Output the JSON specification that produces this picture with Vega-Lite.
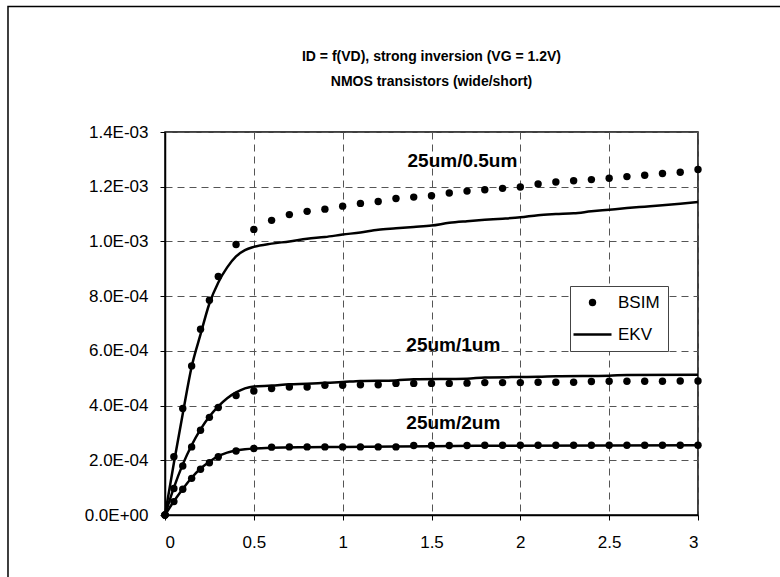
{
  "$schema": "https://vega.github.io/schema/vega-lite/v6.json",
  "width": 533,
  "height": 383,
  "autosize": {"type": "none"},
  "padding": {"left": 165, "top": 132, "right": 82, "bottom": 62},
  "background": "white",
  "title": {
    "text": ["ID = f(VD), strong inversion (VG = 1.2V)", "NMOS transistors (wide/short)"],
    "font": "Liberation Sans",
    "fontSize": 14,
    "fontWeight": "bold",
    "color": "black",
    "lineHeight": 25,
    "anchor": "middle",
    "frame": "group",
    "offset": 35,
    "dy": 118
  },
  "config": {
    "view": {"stroke": "black", "strokeWidth": 1.5},
    "axis": {
      "labelFont": "Liberation Sans",
      "labelFontSize": 17,
      "labelColor": "black",
      "tickColor": "black",
      "tickSize": 5,
      "domainColor": "black",
      "domainWidth": 1.5,
      "grid": true,
      "gridColor": "#555555",
      "gridDash": [7, 5],
      "gridWidth": 1,
      "title": null
    }
  },
  "datasets": {
    "bsim": [
      {"device": "25um/0.5um", "model": "BSIM", "vd": 0, "id": 0},
      {"device": "25um/0.5um", "model": "BSIM", "vd": 0.05, "id": 0.000213},
      {"device": "25um/0.5um", "model": "BSIM", "vd": 0.1, "id": 0.000389},
      {"device": "25um/0.5um", "model": "BSIM", "vd": 0.15, "id": 0.000545},
      {"device": "25um/0.5um", "model": "BSIM", "vd": 0.2, "id": 0.000679},
      {"device": "25um/0.5um", "model": "BSIM", "vd": 0.25, "id": 0.000785},
      {"device": "25um/0.5um", "model": "BSIM", "vd": 0.3, "id": 0.000872},
      {"device": "25um/0.5um", "model": "BSIM", "vd": 0.4, "id": 0.000989},
      {"device": "25um/0.5um", "model": "BSIM", "vd": 0.5, "id": 0.001044},
      {"device": "25um/0.5um", "model": "BSIM", "vd": 0.6, "id": 0.001077},
      {"device": "25um/0.5um", "model": "BSIM", "vd": 0.7, "id": 0.001098},
      {"device": "25um/0.5um", "model": "BSIM", "vd": 0.8, "id": 0.00111},
      {"device": "25um/0.5um", "model": "BSIM", "vd": 0.9, "id": 0.001118},
      {"device": "25um/0.5um", "model": "BSIM", "vd": 1.0, "id": 0.001129},
      {"device": "25um/0.5um", "model": "BSIM", "vd": 1.1, "id": 0.001139},
      {"device": "25um/0.5um", "model": "BSIM", "vd": 1.2, "id": 0.001146},
      {"device": "25um/0.5um", "model": "BSIM", "vd": 1.3, "id": 0.001157},
      {"device": "25um/0.5um", "model": "BSIM", "vd": 1.4, "id": 0.001162},
      {"device": "25um/0.5um", "model": "BSIM", "vd": 1.5, "id": 0.001167},
      {"device": "25um/0.5um", "model": "BSIM", "vd": 1.6, "id": 0.001177},
      {"device": "25um/0.5um", "model": "BSIM", "vd": 1.7, "id": 0.001184},
      {"device": "25um/0.5um", "model": "BSIM", "vd": 1.8, "id": 0.001189},
      {"device": "25um/0.5um", "model": "BSIM", "vd": 1.9, "id": 0.001194},
      {"device": "25um/0.5um", "model": "BSIM", "vd": 2.0, "id": 0.001199},
      {"device": "25um/0.5um", "model": "BSIM", "vd": 2.1, "id": 0.00121},
      {"device": "25um/0.5um", "model": "BSIM", "vd": 2.2, "id": 0.001217},
      {"device": "25um/0.5um", "model": "BSIM", "vd": 2.3, "id": 0.001222},
      {"device": "25um/0.5um", "model": "BSIM", "vd": 2.4, "id": 0.001226},
      {"device": "25um/0.5um", "model": "BSIM", "vd": 2.5, "id": 0.001231},
      {"device": "25um/0.5um", "model": "BSIM", "vd": 2.6, "id": 0.001237},
      {"device": "25um/0.5um", "model": "BSIM", "vd": 2.7, "id": 0.001242},
      {"device": "25um/0.5um", "model": "BSIM", "vd": 2.8, "id": 0.001248},
      {"device": "25um/0.5um", "model": "BSIM", "vd": 2.9, "id": 0.001253},
      {"device": "25um/0.5um", "model": "BSIM", "vd": 3.0, "id": 0.001263},
      {"device": "25um/1um", "model": "BSIM", "vd": 0, "id": 0},
      {"device": "25um/1um", "model": "BSIM", "vd": 0.05, "id": 0.000097},
      {"device": "25um/1um", "model": "BSIM", "vd": 0.1, "id": 0.000179},
      {"device": "25um/1um", "model": "BSIM", "vd": 0.15, "id": 0.000249},
      {"device": "25um/1um", "model": "BSIM", "vd": 0.2, "id": 0.00031},
      {"device": "25um/1um", "model": "BSIM", "vd": 0.25, "id": 0.000357},
      {"device": "25um/1um", "model": "BSIM", "vd": 0.3, "id": 0.000393},
      {"device": "25um/1um", "model": "BSIM", "vd": 0.4, "id": 0.000437},
      {"device": "25um/1um", "model": "BSIM", "vd": 0.5, "id": 0.000453},
      {"device": "25um/1um", "model": "BSIM", "vd": 0.6, "id": 0.000462},
      {"device": "25um/1um", "model": "BSIM", "vd": 0.7, "id": 0.000468},
      {"device": "25um/1um", "model": "BSIM", "vd": 0.8, "id": 0.000468},
      {"device": "25um/1um", "model": "BSIM", "vd": 0.9, "id": 0.000474},
      {"device": "25um/1um", "model": "BSIM", "vd": 1.0, "id": 0.000474},
      {"device": "25um/1um", "model": "BSIM", "vd": 1.1, "id": 0.000476},
      {"device": "25um/1um", "model": "BSIM", "vd": 1.2, "id": 0.000476},
      {"device": "25um/1um", "model": "BSIM", "vd": 1.3, "id": 0.000481},
      {"device": "25um/1um", "model": "BSIM", "vd": 1.4, "id": 0.000481},
      {"device": "25um/1um", "model": "BSIM", "vd": 1.5, "id": 0.000481},
      {"device": "25um/1um", "model": "BSIM", "vd": 1.6, "id": 0.000481},
      {"device": "25um/1um", "model": "BSIM", "vd": 1.7, "id": 0.000482},
      {"device": "25um/1um", "model": "BSIM", "vd": 1.8, "id": 0.000484},
      {"device": "25um/1um", "model": "BSIM", "vd": 1.9, "id": 0.000484},
      {"device": "25um/1um", "model": "BSIM", "vd": 2.0, "id": 0.000484},
      {"device": "25um/1um", "model": "BSIM", "vd": 2.1, "id": 0.000485},
      {"device": "25um/1um", "model": "BSIM", "vd": 2.2, "id": 0.000485},
      {"device": "25um/1um", "model": "BSIM", "vd": 2.3, "id": 0.000485},
      {"device": "25um/1um", "model": "BSIM", "vd": 2.4, "id": 0.000488},
      {"device": "25um/1um", "model": "BSIM", "vd": 2.5, "id": 0.000489},
      {"device": "25um/1um", "model": "BSIM", "vd": 2.6, "id": 0.000489},
      {"device": "25um/1um", "model": "BSIM", "vd": 2.7, "id": 0.000489},
      {"device": "25um/1um", "model": "BSIM", "vd": 2.8, "id": 0.000489},
      {"device": "25um/1um", "model": "BSIM", "vd": 2.9, "id": 0.00049},
      {"device": "25um/1um", "model": "BSIM", "vd": 3.0, "id": 0.00049},
      {"device": "25um/2um", "model": "BSIM", "vd": 0, "id": 0},
      {"device": "25um/2um", "model": "BSIM", "vd": 0.05, "id": 0.000049},
      {"device": "25um/2um", "model": "BSIM", "vd": 0.1, "id": 0.000094},
      {"device": "25um/2um", "model": "BSIM", "vd": 0.15, "id": 0.000134},
      {"device": "25um/2um", "model": "BSIM", "vd": 0.2, "id": 0.000167},
      {"device": "25um/2um", "model": "BSIM", "vd": 0.25, "id": 0.000191},
      {"device": "25um/2um", "model": "BSIM", "vd": 0.3, "id": 0.000213},
      {"device": "25um/2um", "model": "BSIM", "vd": 0.4, "id": 0.000234},
      {"device": "25um/2um", "model": "BSIM", "vd": 0.5, "id": 0.000243},
      {"device": "25um/2um", "model": "BSIM", "vd": 0.6, "id": 0.000248},
      {"device": "25um/2um", "model": "BSIM", "vd": 0.7, "id": 0.000249},
      {"device": "25um/2um", "model": "BSIM", "vd": 0.8, "id": 0.000249},
      {"device": "25um/2um", "model": "BSIM", "vd": 0.9, "id": 0.000249},
      {"device": "25um/2um", "model": "BSIM", "vd": 1.0, "id": 0.000249},
      {"device": "25um/2um", "model": "BSIM", "vd": 1.1, "id": 0.000249},
      {"device": "25um/2um", "model": "BSIM", "vd": 1.2, "id": 0.000249},
      {"device": "25um/2um", "model": "BSIM", "vd": 1.3, "id": 0.000249},
      {"device": "25um/2um", "model": "BSIM", "vd": 1.4, "id": 0.000254},
      {"device": "25um/2um", "model": "BSIM", "vd": 1.5, "id": 0.000254},
      {"device": "25um/2um", "model": "BSIM", "vd": 1.6, "id": 0.000254},
      {"device": "25um/2um", "model": "BSIM", "vd": 1.7, "id": 0.000254},
      {"device": "25um/2um", "model": "BSIM", "vd": 1.8, "id": 0.000255},
      {"device": "25um/2um", "model": "BSIM", "vd": 1.9, "id": 0.000255},
      {"device": "25um/2um", "model": "BSIM", "vd": 2.0, "id": 0.000255},
      {"device": "25um/2um", "model": "BSIM", "vd": 2.1, "id": 0.000255},
      {"device": "25um/2um", "model": "BSIM", "vd": 2.2, "id": 0.000255},
      {"device": "25um/2um", "model": "BSIM", "vd": 2.3, "id": 0.000255},
      {"device": "25um/2um", "model": "BSIM", "vd": 2.4, "id": 0.000255},
      {"device": "25um/2um", "model": "BSIM", "vd": 2.5, "id": 0.000255},
      {"device": "25um/2um", "model": "BSIM", "vd": 2.6, "id": 0.000255},
      {"device": "25um/2um", "model": "BSIM", "vd": 2.7, "id": 0.000255},
      {"device": "25um/2um", "model": "BSIM", "vd": 2.8, "id": 0.000255},
      {"device": "25um/2um", "model": "BSIM", "vd": 2.9, "id": 0.000255},
      {"device": "25um/2um", "model": "BSIM", "vd": 3.0, "id": 0.000255}
    ],
    "ekv": [
      {"device": "25um/0.5um", "vd": 0, "id": 0},
      {"device": "25um/0.5um", "vd": 0.05, "id": 0.00019},
      {"device": "25um/0.5um", "vd": 0.1, "id": 0.00037},
      {"device": "25um/0.5um", "vd": 0.15, "id": 0.000542},
      {"device": "25um/0.5um", "vd": 0.2, "id": 0.00066},
      {"device": "25um/0.5um", "vd": 0.25, "id": 0.000773},
      {"device": "25um/0.5um", "vd": 0.3, "id": 0.00085},
      {"device": "25um/0.5um", "vd": 0.35, "id": 0.000905},
      {"device": "25um/0.5um", "vd": 0.4, "id": 0.000945},
      {"device": "25um/0.5um", "vd": 0.45, "id": 0.000968},
      {"device": "25um/0.5um", "vd": 0.5, "id": 0.00098},
      {"device": "25um/0.5um", "vd": 0.6, "id": 0.000992},
      {"device": "25um/0.5um", "vd": 0.7, "id": 0.001},
      {"device": "25um/0.5um", "vd": 0.8, "id": 0.00101},
      {"device": "25um/0.5um", "vd": 0.9, "id": 0.001016},
      {"device": "25um/0.5um", "vd": 1.0, "id": 0.001025},
      {"device": "25um/0.5um", "vd": 1.1, "id": 0.001033},
      {"device": "25um/0.5um", "vd": 1.2, "id": 0.001043},
      {"device": "25um/0.5um", "vd": 1.3, "id": 0.001048},
      {"device": "25um/0.5um", "vd": 1.4, "id": 0.001053},
      {"device": "25um/0.5um", "vd": 1.5, "id": 0.001058},
      {"device": "25um/0.5um", "vd": 1.6, "id": 0.001068},
      {"device": "25um/0.5um", "vd": 1.7, "id": 0.001074},
      {"device": "25um/0.5um", "vd": 1.8, "id": 0.001079},
      {"device": "25um/0.5um", "vd": 1.9, "id": 0.001083},
      {"device": "25um/0.5um", "vd": 2.0, "id": 0.001088},
      {"device": "25um/0.5um", "vd": 2.1, "id": 0.001096},
      {"device": "25um/0.5um", "vd": 2.2, "id": 0.0011},
      {"device": "25um/0.5um", "vd": 2.3, "id": 0.001103},
      {"device": "25um/0.5um", "vd": 2.4, "id": 0.00111},
      {"device": "25um/0.5um", "vd": 2.5, "id": 0.001116},
      {"device": "25um/0.5um", "vd": 2.6, "id": 0.001122},
      {"device": "25um/0.5um", "vd": 2.7, "id": 0.001127},
      {"device": "25um/0.5um", "vd": 2.8, "id": 0.001132},
      {"device": "25um/0.5um", "vd": 2.9, "id": 0.001138},
      {"device": "25um/0.5um", "vd": 3.0, "id": 0.001144},
      {"device": "25um/1um", "vd": 0, "id": 0},
      {"device": "25um/1um", "vd": 0.05, "id": 0.0001},
      {"device": "25um/1um", "vd": 0.1, "id": 0.000185},
      {"device": "25um/1um", "vd": 0.15, "id": 0.000255},
      {"device": "25um/1um", "vd": 0.2, "id": 0.000313},
      {"device": "25um/1um", "vd": 0.25, "id": 0.00036},
      {"device": "25um/1um", "vd": 0.3, "id": 0.000397},
      {"device": "25um/1um", "vd": 0.35, "id": 0.000427},
      {"device": "25um/1um", "vd": 0.4, "id": 0.000448},
      {"device": "25um/1um", "vd": 0.45, "id": 0.000463},
      {"device": "25um/1um", "vd": 0.5, "id": 0.00047},
      {"device": "25um/1um", "vd": 0.6, "id": 0.000473},
      {"device": "25um/1um", "vd": 0.7, "id": 0.000478},
      {"device": "25um/1um", "vd": 0.8, "id": 0.00048},
      {"device": "25um/1um", "vd": 0.9, "id": 0.000483},
      {"device": "25um/1um", "vd": 1.0, "id": 0.000486},
      {"device": "25um/1um", "vd": 1.1, "id": 0.00049},
      {"device": "25um/1um", "vd": 1.3, "id": 0.000492},
      {"device": "25um/1um", "vd": 1.4, "id": 0.000496},
      {"device": "25um/1um", "vd": 1.7, "id": 0.000498},
      {"device": "25um/1um", "vd": 1.8, "id": 0.000503},
      {"device": "25um/1um", "vd": 2.1, "id": 0.000505},
      {"device": "25um/1um", "vd": 2.2, "id": 0.000507},
      {"device": "25um/1um", "vd": 2.5, "id": 0.000509},
      {"device": "25um/1um", "vd": 2.6, "id": 0.000512},
      {"device": "25um/1um", "vd": 3.0, "id": 0.000513},
      {"device": "25um/2um", "vd": 0, "id": 0},
      {"device": "25um/2um", "vd": 0.05, "id": 0.00005},
      {"device": "25um/2um", "vd": 0.1, "id": 0.000095},
      {"device": "25um/2um", "vd": 0.15, "id": 0.000136},
      {"device": "25um/2um", "vd": 0.2, "id": 0.00017},
      {"device": "25um/2um", "vd": 0.25, "id": 0.000195},
      {"device": "25um/2um", "vd": 0.3, "id": 0.000215},
      {"device": "25um/2um", "vd": 0.35, "id": 0.000228},
      {"device": "25um/2um", "vd": 0.4, "id": 0.000236},
      {"device": "25um/2um", "vd": 0.45, "id": 0.00024},
      {"device": "25um/2um", "vd": 0.5, "id": 0.000243},
      {"device": "25um/2um", "vd": 0.6, "id": 0.000246},
      {"device": "25um/2um", "vd": 0.8, "id": 0.000248},
      {"device": "25um/2um", "vd": 1.0, "id": 0.000249},
      {"device": "25um/2um", "vd": 1.3, "id": 0.00025},
      {"device": "25um/2um", "vd": 1.75, "id": 0.000253},
      {"device": "25um/2um", "vd": 2.5, "id": 0.000254},
      {"device": "25um/2um", "vd": 3.0, "id": 0.000255}
    ],
    "labels": [
      {"label": "25um/0.5um", "vd": 1.674, "id": 0.001294},
      {"label": "25um/1um", "vd": 1.623, "id": 0.000621},
      {"label": "25um/2um", "vd": 1.623, "id": 0.000335}
    ]
  },
  "layer": [
    {
      "data": {"values": [{}]},
      "mark": {"type": "rect", "filled": false, "stroke": "black", "strokeWidth": 1.5, "clip": false},
      "encoding": {
        "x": {"datum": -0.8837, "type": "quantitative", "scale": {"domain": [0, 3], "nice": false, "zero": false}, "axis": {"values": [0, 0.5, 1, 1.5, 2, 2.5, 3], "format": "~g", "labelPadding": 14}},
        "x2": {"datum": 3.6},
        "y": {"datum": 0.001859, "type": "quantitative", "scale": {"domain": [0, 0.0014], "nice": false, "zero": false}, "axis": {"values": [0, 0.0002, 0.0004, 0.0006, 0.0008, 0.001, 0.0012, 0.0014], "labelExpr": "replace(replace(format(datum.value, '.1e'), 'e-', 'E-0'), 'e+', 'E+0')", "labelPadding": 12}},
        "y2": {"datum": -0.0003}
      }
    },
    {
      "data": {"name": "ekv"},
      "mark": {"type": "line", "color": "black", "strokeWidth": 2.5, "interpolate": "monotone"},
      "encoding": {
        "x": {"field": "vd", "type": "quantitative", "scale": {"domain": [0, 3], "nice": false, "zero": false}},
        "y": {"field": "id", "type": "quantitative", "scale": {"domain": [0, 0.0014], "nice": false, "zero": false}},
        "detail": {"field": "device"}
      }
    },
    {
      "data": {"name": "bsim"},
      "mark": {"type": "point", "filled": true, "color": "black", "opacity": 1, "size": 55},
      "encoding": {
        "x": {"field": "vd", "type": "quantitative", "scale": {"domain": [0, 3], "nice": false, "zero": false}},
        "y": {"field": "id", "type": "quantitative", "scale": {"domain": [0, 0.0014], "nice": false, "zero": false}},
        "shape": {
          "field": "model",
          "type": "nominal",
          "scale": {"domain": ["BSIM", "EKV"], "range": ["circle", "stroke"]},
          "legend": {
            "title": null,
            "orient": "none",
            "legendX": 405,
            "legendY": 154,
            "padding": 8,
            "rowPadding": 14,
            "fillColor": "white",
            "strokeColor": "#444444",
            "labelFont": "Liberation Sans",
            "labelFontSize": 17,
            "labelColor": "black",
            "labelOffset": 17,
            "symbolOffset": 6,
            "symbolSize": 342,
            "symbolFillColor": "black",
            "symbolStrokeColor": "black",
            "symbolStrokeWidth": 2.5,
            "symbolOpacity": 1,
            "encoding": {
              "symbols": {
                "size": {"value": {"expr": "datum.value === 'EKV' ? 1444 : 55"}},
                "strokeWidth": {"value": {"expr": "datum.value === 'EKV' ? 2.5 : 0"}},
                "stroke": {"value": "black"},
                "fill": {"value": "black"}
              }
            }
          }
        }
      }
    },
    {
      "data": {"name": "labels"},
      "mark": {"type": "text", "font": "Liberation Sans", "fontSize": 19, "fontWeight": "bold", "color": "black", "align": "center", "baseline": "middle"},
      "encoding": {
        "x": {"field": "vd", "type": "quantitative", "scale": {"domain": [0, 3], "nice": false, "zero": false}},
        "y": {"field": "id", "type": "quantitative", "scale": {"domain": [0, 0.0014], "nice": false, "zero": false}},
        "text": {"field": "label"}
      }
    }
  ]
}
